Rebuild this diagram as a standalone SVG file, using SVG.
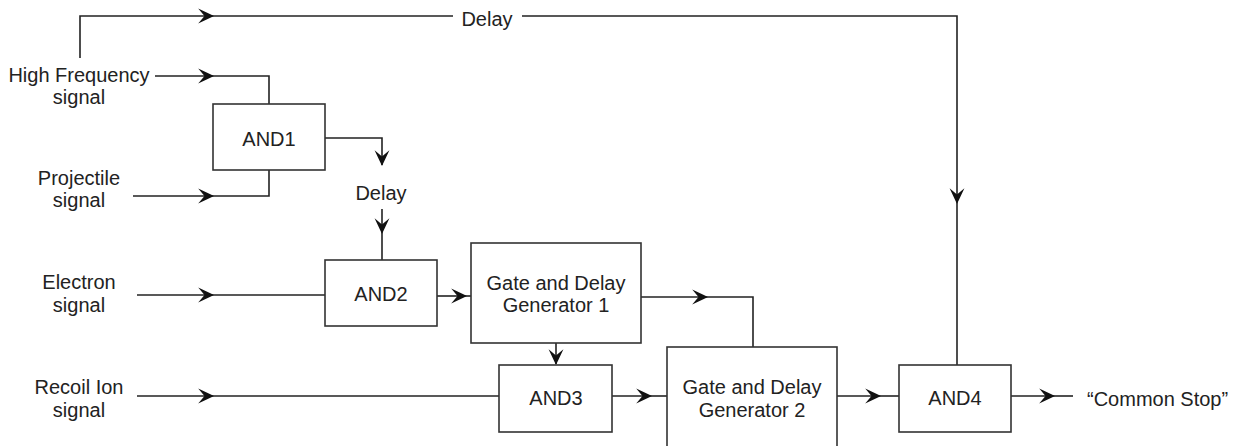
<svg xmlns="http://www.w3.org/2000/svg" width="1239" height="446" viewBox="0 0 1239 446">
<style>
.box{fill:#fff;stroke:#333;stroke-width:1.6}
.ln{fill:none;stroke:#222;stroke-width:1.6}
text{font-family:"Liberation Sans",Arial,sans-serif;font-size:20px;fill:#222}
.c{text-anchor:middle}
</style>
<defs>
<marker id="ah" markerUnits="userSpaceOnUse" markerWidth="18" markerHeight="18" viewBox="-15 -8 17 16" refX="0" refY="0" orient="auto">
<path d="M1,0 L-14,-7 L-8,0 L-14,7 Z" fill="#111"/>
</marker>
</defs>
<rect width="1239" height="446" fill="#fff"/>
<g id="connectors">
<path class="ln" d="M80,58 V16 H213" marker-end="url(#ah)"/>
<path class="ln" d="M213,16 H453"/>
<path class="ln" d="M522,16 H957 V203" marker-end="url(#ah)"/>
<path class="ln" d="M957,203 V365"/>
<path class="ln" d="M155,76 H213" marker-end="url(#ah)"/>
<path class="ln" d="M213,76 H269 V104"/>
<path class="ln" d="M133,196 H213" marker-end="url(#ah)"/>
<path class="ln" d="M213,196 H269 V170"/>
<path class="ln" d="M325,138 H382 V165" marker-end="url(#ah)"/>
<path class="ln" d="M382,209 V233" marker-end="url(#ah)"/>
<path class="ln" d="M382,233 V260"/>
<path class="ln" d="M137,295 H213" marker-end="url(#ah)"/>
<path class="ln" d="M213,295 H325"/>
<path class="ln" d="M437,296 H466" marker-end="url(#ah)"/>
<path class="ln" d="M466,296 H471"/>
<path class="ln" d="M641,297 H707" marker-end="url(#ah)"/>
<path class="ln" d="M707,297 H753 V347"/>
<path class="ln" d="M556,343 V364" marker-end="url(#ah)"/>
<path class="ln" d="M137,396 H213" marker-end="url(#ah)"/>
<path class="ln" d="M213,396 H499"/>
<path class="ln" d="M612,396 H651" marker-end="url(#ah)"/>
<path class="ln" d="M651,396 H667"/>
<path class="ln" d="M837,396 H880" marker-end="url(#ah)"/>
<path class="ln" d="M880,396 H899"/>
<path class="ln" d="M1011,396 H1054" marker-end="url(#ah)"/>
<path class="ln" d="M1054,396 H1073"/>
</g>
<g id="label-delay-top"><text class="c" x="487" y="26">Delay</text></g>
<g id="label-delay-mid"><text class="c" x="381" y="200">Delay</text></g>
<g id="in-hf"><text class="c" x="79" y="82">High Frequency</text><text class="c" x="79" y="104">signal</text></g>
<g id="in-proj"><text class="c" x="79" y="185">Projectile</text><text class="c" x="79" y="207">signal</text></g>
<g id="in-electron"><text class="c" x="79" y="289">Electron</text><text class="c" x="79" y="312">signal</text></g>
<g id="in-recoil"><text class="c" x="79" y="394">Recoil Ion</text><text class="c" x="79" y="417">signal</text></g>
<g id="and1"><rect class="box" x="213" y="104" width="112" height="66"/><text class="c" x="269" y="146">AND1</text></g>
<g id="and2"><rect class="box" x="325" y="260" width="112" height="66"/><text class="c" x="381" y="301">AND2</text></g>
<g id="gdg1"><rect class="box" x="471" y="243" width="170" height="100"/><text class="c" x="556" y="290">Gate and Delay</text><text class="c" x="556" y="312">Generator 1</text></g>
<g id="and3"><rect class="box" x="499" y="365" width="113" height="67"/><text class="c" x="556" y="405">AND3</text></g>
<g id="gdg2"><rect class="box" x="667" y="347" width="170" height="110"/><text class="c" x="752" y="394">Gate and Delay</text><text class="c" x="752" y="417">Generator 2</text></g>
<g id="and4"><rect class="box" x="899" y="365" width="112" height="67"/><text class="c" x="955" y="405">AND4</text></g>
<g id="out-common-stop"><text x="1087" y="406">“Common Stop”</text></g>
</svg>
